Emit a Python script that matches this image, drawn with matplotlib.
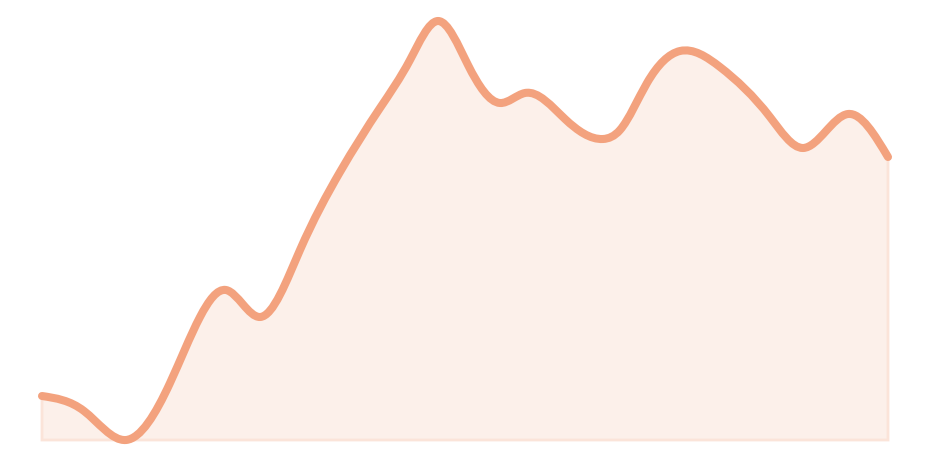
import matplotlib
matplotlib.use('Agg')
import matplotlib.pyplot as plt
import numpy as np
from matplotlib.path import Path
from matplotlib.patches import PathPatch

# points (x position, value above baseline)
xs = [0, 42, 84, 128, 158, 184, 218, 258, 298, 338, 368, 396, 426, 458,
      483, 523, 561, 578, 605, 638, 678, 728, 761, 806, 846]
ys = [44, 29, 0, 57, 123, 150, 123, 190, 268, 332, 380, 419, 375, 337,
      347, 321, 301, 310, 357, 389, 373, 323, 292, 326, 283]

line_color = '#F3A27E'
fill_color = '#FCF0EA'
edge_color = '#FBE4D9'


def spline_path(x, y):
    # natural cubic spline through the points, drawn as bezier segments
    x = np.asarray(x, float)
    y = np.asarray(y, float)
    n = len(x)
    h = np.diff(x)
    s = np.diff(y) / h
    A = np.zeros((n, n))
    b = np.zeros(n)
    A[0, 0] = A[-1, -1] = 1
    for i in range(1, n - 1):
        A[i, i - 1] = h[i - 1]
        A[i, i] = 2 * (h[i - 1] + h[i])
        A[i, i + 1] = h[i]
        b[i] = 6 * (s[i] - s[i - 1])
    M = np.linalg.solve(A, b)
    verts = [(x[0], y[0])]
    codes = [Path.MOVETO]
    for i in range(n - 1):
        d0 = s[i] - h[i] * (2 * M[i] + M[i + 1]) / 6
        d1 = s[i] + h[i] * (M[i] + 2 * M[i + 1]) / 6
        k = h[i] / 3
        verts += [(x[i] + k, y[i] + k * d0),
                  (x[i + 1] - k, y[i + 1] - k * d1),
                  (x[i + 1], y[i + 1])]
        codes += [Path.CURVE4] * 3
    return verts, codes


fig = plt.figure(figsize=(9.3, 4.62), dpi=100)
ax = fig.add_axes([42 / 930, 22 / 462, 846 / 930, 430 / 462])
ax.set_xlim(xs[0], xs[-1])
ax.set_ylim(0, 430)
ax.axis('off')

verts, codes = spline_path(xs, ys)

# area under the curve
fverts = verts + [(xs[-1], 0), (xs[0], 0), verts[0]]
fcodes = codes + [Path.LINETO, Path.LINETO, Path.CLOSEPOLY]
ax.add_patch(PathPatch(Path(fverts, fcodes), facecolor=fill_color,
                       edgecolor=edge_color, lw=2, clip_on=False))

# the line itself
ax.add_patch(PathPatch(Path(verts, codes), facecolor='none',
                       edgecolor=line_color, lw=5.8, capstyle='round',
                       joinstyle='round', clip_on=False))

fig.savefig('out.png', dpi=100)
